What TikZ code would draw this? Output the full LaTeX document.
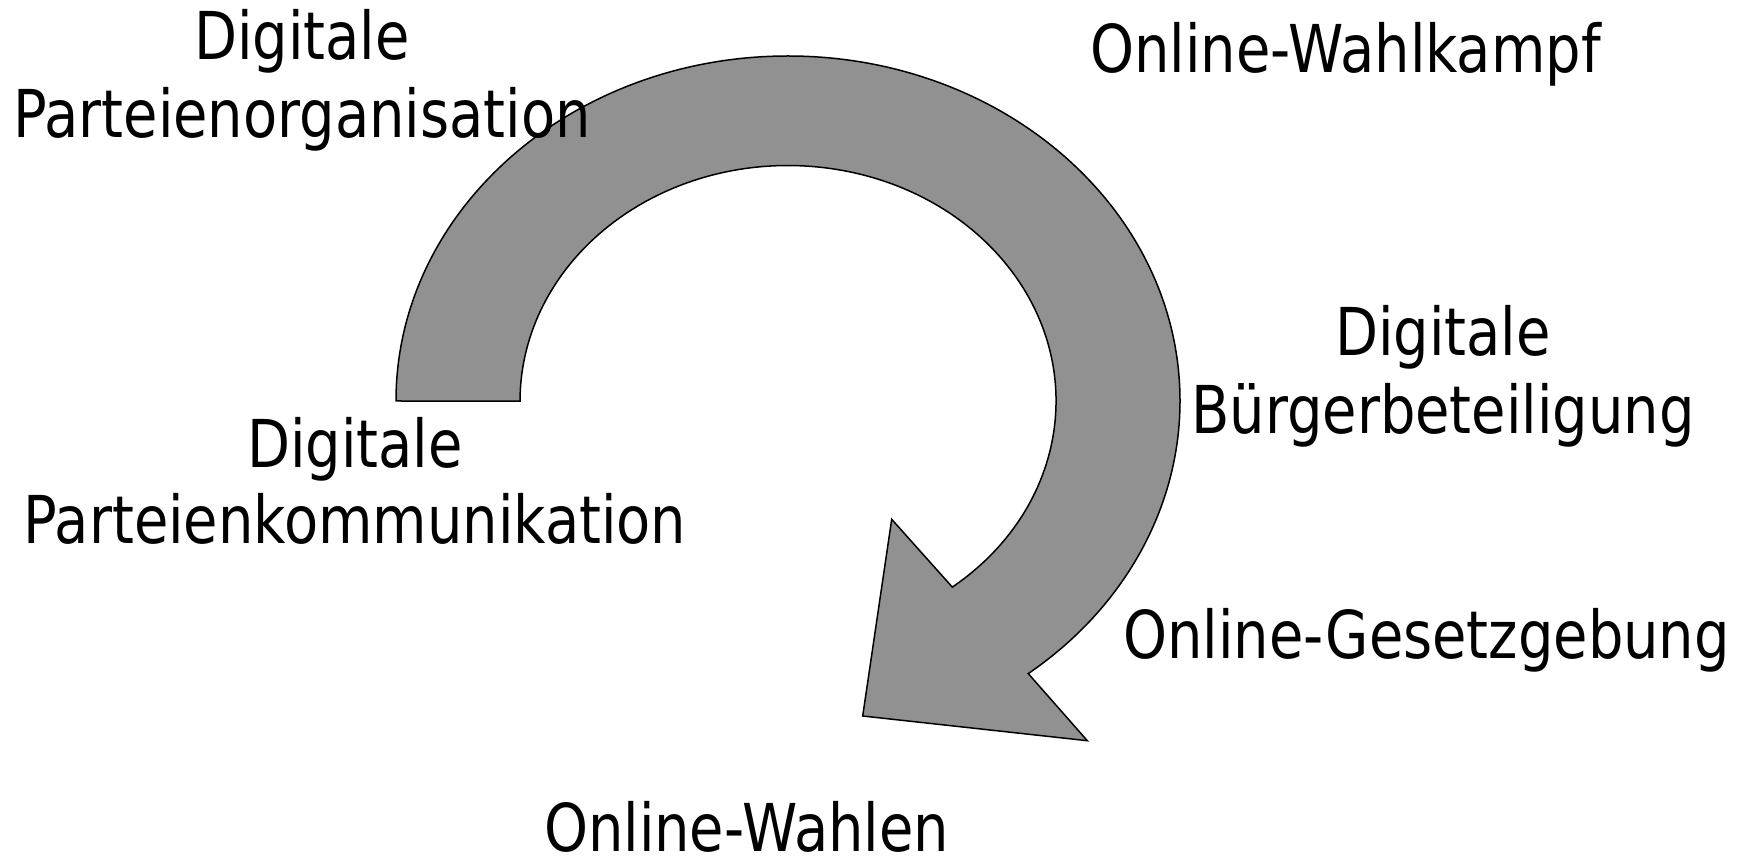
\documentclass[tikz,border=0pt]{standalone}
\usepackage{fontspec}
\setmainfont{DejaVu Sans}[FakeStretch=0.847]
\definecolor{arrowgray}{RGB}{145,145,145}
\tikzset{
  lbl/.style={inner sep=0pt, align=center, font=\fontsize{66}{78}\selectfont},
  arrowbody/.style={fill=arrowgray, draw=black, line width=1.5pt, line join=miter}
}
\begin{document}
\begin{tikzpicture}[x=1pt,y=1pt]
\useasboundingbox (0,0) rectangle (1742,855);
% curved arrow
\draw[arrowbody] (396,454)
  arc[start angle=180, end angle=-52.2, x radius=392pt, y radius=345pt]
  -- (1087.3,114.3) -- (862.7,139) -- (891.7,335.7) -- (952.3,267.9)
  arc[start angle=-52.2, end angle=180, x radius=268pt, y radius=235.5pt]
  -- cycle;
% labels
\node[lbl, anchor=north] (dpo) at (302,845.5) {Digitale\\Parteienorganisation};
\node[lbl, anchor=base] (owk) at (1345.5,782.5) {Online-Wahlkampf};
\node[lbl, anchor=north] (dbb) at (1443,550) {Digitale\\Bürgerbeteiligung};
\node[lbl, anchor=north, font=\fontsize{66}{76}\selectfont] (dpk) at (355,437.5) {Digitale\\Parteienkommunikation};
\node[lbl, anchor=base] (ogg) at (1426.5,196.5) {Online-Gesetzgebung};
\node[lbl, anchor=base] (owa) at (746.5,4) {Online-Wahlen};
\end{tikzpicture}
\end{document}
